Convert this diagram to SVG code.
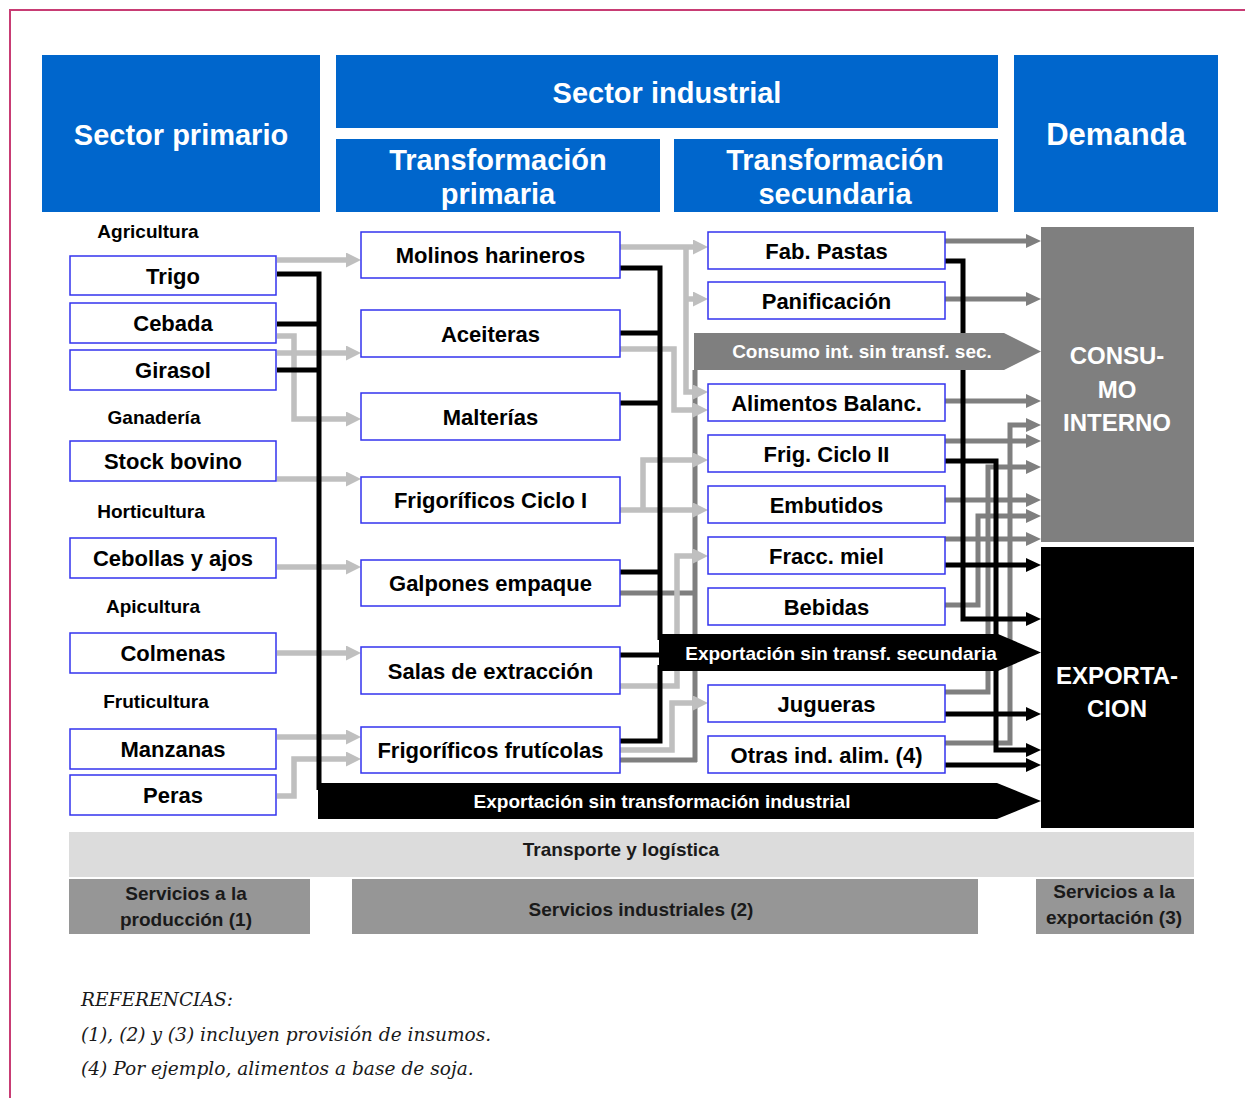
<svg xmlns="http://www.w3.org/2000/svg" width="1245" height="1098" viewBox="0 0 1245 1098">
<style>
.hdr{fill:#0066cc}
.ht{font-family:"Liberation Sans",Arial,sans-serif;font-weight:bold;font-size:29px;fill:#fff;text-anchor:middle}
.nb{fill:#fff;stroke:#3333ee;stroke-width:1.5}
.nt{font-family:"Liberation Sans",Arial,sans-serif;font-weight:bold;font-size:22px;fill:#000;text-anchor:middle}
.cat{font-family:"Liberation Sans",Arial,sans-serif;font-weight:bold;font-size:19px;fill:#000;text-anchor:middle}
.bt{font-family:"Liberation Sans",Arial,sans-serif;font-weight:bold;font-size:19px;fill:#fff;text-anchor:middle}
.dt{font-family:"Liberation Sans",Arial,sans-serif;font-weight:bold;font-size:24px;fill:#fff;text-anchor:middle}
.st{font-family:"Liberation Sans",Arial,sans-serif;font-weight:bold;font-size:19px;fill:#1a1a1a;text-anchor:middle}
.ref{font-family:"DejaVu Serif","Liberation Serif",serif;font-style:italic;font-size:18.6px;fill:#1a1a1a}
.lg{fill:none;stroke:#bfbfbf;stroke-width:5.5}
.g{fill:none;stroke:#7f7f7f;stroke-width:5}
.b{fill:none;stroke:#000;stroke-width:5}
.lga{marker-end:url(#ahL)}
.ga{marker-end:url(#ahG)}
.ba{marker-end:url(#ahB)}
</style>
<defs>
<marker id="ahL" markerUnits="userSpaceOnUse" markerWidth="16" markerHeight="16" refX="5" refY="7.5" orient="auto"><path d="M0,0 L15,7.5 L0,15 z" fill="#bfbfbf"/></marker>
<marker id="ahG" markerUnits="userSpaceOnUse" markerWidth="16" markerHeight="16" refX="5" refY="7" orient="auto"><path d="M0,0 L15,7 L0,14 z" fill="#7f7f7f"/></marker>
<marker id="ahB" markerUnits="userSpaceOnUse" markerWidth="16" markerHeight="16" refX="5" refY="7" orient="auto"><path d="M0,0 L15,7 L0,14 z" fill="#000"/></marker>
</defs>
<rect width="1245" height="1098" fill="#fff"/>
<path d="M10,1098 V10 H1245" fill="none" stroke="#c83c74" stroke-width="2"/>

<g id="hdr-primario"><rect class="hdr" x="42" y="55" width="278" height="157"/><text class="ht" x="181" y="145">Sector primario</text></g>
<g id="hdr-industrial"><rect class="hdr" x="336" y="55" width="662" height="73"/><text class="ht" x="667" y="103">Sector industrial</text></g>
<g id="hdr-tprimaria"><rect class="hdr" x="336" y="139" width="324" height="73"/><text class="ht" x="498" y="170">Transformación</text><text class="ht" x="498" y="204">primaria</text></g>
<g id="hdr-tsecundaria"><rect class="hdr" x="674" y="139" width="324" height="73"/><text class="ht" x="835" y="170">Transformación</text><text class="ht" x="835" y="204">secundaria</text></g>
<g id="hdr-demanda"><rect class="hdr" x="1014" y="55" width="204" height="157"/><text class="ht" x="1116" y="145" style="font-size:31px">Demanda</text></g>

<g id="labels">
<text class="cat" x="148" y="238">Agricultura</text>
<text class="cat" x="154" y="424">Ganadería</text>
<text class="cat" x="151" y="518">Horticultura</text>
<text class="cat" x="153" y="613">Apicultura</text>
<text class="cat" x="156" y="708">Fruticultura</text>
</g>

<g id="connectors">
<path class="g" d="M695,370 V762"/>
<path class="g" d="M620,593 H695"/>
<path class="g" d="M620,760 H697"/>
<path class="g ga" d="M945,241 H1031"/>
<path class="g ga" d="M945,299 H1031"/>
<path class="g ga" d="M945,401 H1031"/>
<path class="g ga" d="M945,441 H1031"/>
<path class="g ga" d="M945,500 H1031"/>
<path class="g ga" d="M945,539 H1031"/>
<path class="g ga" d="M945,605 H978 V516 H1031"/>
<path class="g ga" d="M945,692 H988 V467 H1031"/>
<path class="g ga" d="M945,743 H1010 V425 H1031"/>
<path class="lg lga" d="M277,260 H351"/>
<path class="lg lga" d="M277,353 H351"/>
<path class="lg lga" d="M277,336 H294 V419 H351"/>
<path class="lg lga" d="M277,479 H351"/>
<path class="lg lga" d="M277,567 H351"/>
<path class="lg lga" d="M277,653 H351"/>
<path class="lg lga" d="M277,737 H351"/>
<path class="lg lga" d="M277,796 H294 V759 H351"/>
<path class="lg lga" d="M620,247 H698"/>
<path class="lg lga" d="M686,247 V392 H698"/>
<path class="lg lga" d="M686,299 H698"/>
<path class="lg lga" d="M620,349 H674 V410 H698"/>
<path class="lg lga" d="M620,510 H698"/>
<path class="lg lga" d="M643,510 V460 H698"/>
<path class="lg lga" d="M620,686 H677 V556 H698"/>
<path class="lg lga" d="M620,750 H672 V703 H698"/>
<path class="b" d="M277,274 H319 V790"/>
<path class="b" d="M277,324 H319"/>
<path class="b" d="M277,370 H319"/>
<path class="b" d="M620,268 H660 V640"/>
<path class="b" d="M620,333 H660"/>
<path class="b" d="M620,403 H660"/>
<path class="b" d="M620,572 H660"/>
<path class="b" d="M620,655 H664"/>
<path class="b" d="M620,741 H660 V665"/>
<path class="b ba" d="M945,261 H963 V619 H1031"/>
<path class="b ba" d="M945,461 H996 V750 H1031"/>
<path class="b ba" d="M945,565 H1031"/>
<path class="b ba" d="M945,714 H1031"/>
<path class="b ba" d="M945,765 H1031"/>
</g>

<g id="banner-consumo"><polygon points="694,333 1004,333 1041,351.5 1004,370 694,370" fill="#7f7f7f"/><text class="bt" x="862" y="358">Consumo int. sin transf. sec.</text></g>
<g id="banner-export-sec"><polygon points="659,634 998,634 1041,652.5 998,671 659,671" fill="#000"/><text class="bt" x="841" y="659.5">Exportación sin transf. secundaria</text></g>
<g id="banner-export-ind"><polygon points="318,783 997,783 1041,801 997,819 318,819" fill="#000"/><text class="bt" x="662" y="808">Exportación sin transformación industrial</text></g>

<g id="consumo-interno"><rect x="1041" y="227" width="153" height="315" fill="#7f7f7f"/><text class="dt" x="1117" y="364">CONSU-</text><text class="dt" x="1117" y="398">MO</text><text class="dt" x="1117" y="431">INTERNO</text></g>
<g id="exportacion"><rect x="1041" y="547" width="153" height="281" fill="#000"/><text class="dt" x="1117" y="684">EXPORTA-</text><text class="dt" x="1117" y="717">CION</text></g>

<g id="trigo"><rect class="nb" x="70" y="256" width="206" height="39"/><text class="nt" x="173" y="283.5">Trigo</text></g>
<g id="cebada"><rect class="nb" x="70" y="303" width="206" height="40"/><text class="nt" x="173" y="331">Cebada</text></g>
<g id="girasol"><rect class="nb" x="70" y="350" width="206" height="40"/><text class="nt" x="173" y="378">Girasol</text></g>
<g id="stock-bovino"><rect class="nb" x="70" y="441" width="206" height="40"/><text class="nt" x="173" y="469">Stock bovino</text></g>
<g id="cebollas"><rect class="nb" x="70" y="538" width="206" height="40"/><text class="nt" x="173" y="566">Cebollas y ajos</text></g>
<g id="colmenas"><rect class="nb" x="70" y="633" width="206" height="40"/><text class="nt" x="173" y="661">Colmenas</text></g>
<g id="manzanas"><rect class="nb" x="70" y="729" width="206" height="40"/><text class="nt" x="173" y="757">Manzanas</text></g>
<g id="peras"><rect class="nb" x="70" y="775" width="206" height="40"/><text class="nt" x="173" y="803">Peras</text></g>

<g id="molinos"><rect class="nb" x="361" y="232" width="259" height="46"/><text class="nt" x="490.5" y="263">Molinos harineros</text></g>
<g id="aceiteras"><rect class="nb" x="361" y="310" width="259" height="47"/><text class="nt" x="490.5" y="341.5">Aceiteras</text></g>
<g id="malterias"><rect class="nb" x="361" y="393" width="259" height="47"/><text class="nt" x="490.5" y="424.5">Malterías</text></g>
<g id="frig-ciclo1"><rect class="nb" x="361" y="477" width="259" height="46"/><text class="nt" x="490.5" y="508">Frigoríficos Ciclo I</text></g>
<g id="galpones"><rect class="nb" x="361" y="560" width="259" height="46"/><text class="nt" x="490.5" y="591">Galpones empaque</text></g>
<g id="salas"><rect class="nb" x="361" y="647" width="259" height="47"/><text class="nt" x="490.5" y="678.5">Salas de extracción</text></g>
<g id="frig-fruticolas"><rect class="nb" x="361" y="727" width="259" height="46"/><text class="nt" x="490.5" y="758">Frigoríficos frutícolas</text></g>

<g id="fab-pastas"><rect class="nb" x="708" y="232" width="237" height="37"/><text class="nt" x="826.5" y="258.5">Fab. Pastas</text></g>
<g id="panificacion"><rect class="nb" x="708" y="282" width="237" height="37"/><text class="nt" x="826.5" y="308.5">Panificación</text></g>
<g id="alimentos"><rect class="nb" x="708" y="384" width="237" height="37"/><text class="nt" x="826.5" y="410.5">Alimentos Balanc.</text></g>
<g id="frig-ciclo2"><rect class="nb" x="708" y="435" width="237" height="37"/><text class="nt" x="826.5" y="461.5">Frig. Ciclo II</text></g>
<g id="embutidos"><rect class="nb" x="708" y="486" width="237" height="37"/><text class="nt" x="826.5" y="512.5">Embutidos</text></g>
<g id="fracc-miel"><rect class="nb" x="708" y="537" width="237" height="37"/><text class="nt" x="826.5" y="563.5">Fracc. miel</text></g>
<g id="bebidas"><rect class="nb" x="708" y="588" width="237" height="37"/><text class="nt" x="826.5" y="614.5">Bebidas</text></g>
<g id="jugueras"><rect class="nb" x="708" y="685" width="237" height="37"/><text class="nt" x="826.5" y="711.5">Jugueras</text></g>
<g id="otras"><rect class="nb" x="708" y="736" width="237" height="37"/><text class="nt" x="826.5" y="762.5">Otras ind. alim. (4)</text></g>

<g id="transporte"><rect x="69" y="832" width="1125" height="45" fill="#dcdcdc"/><text class="st" x="621" y="856">Transporte y logística</text></g>
<g id="serv-produccion"><rect x="69" y="879" width="241" height="55" fill="#969696"/><text class="st" x="186" y="900">Servicios a la</text><text class="st" x="186" y="926">producción (1)</text></g>
<g id="serv-industriales"><rect x="352" y="879" width="626" height="55" fill="#969696"/><text class="st" x="641" y="916">Servicios industriales (2)</text></g>
<g id="serv-exportacion"><rect x="1036" y="879" width="158" height="55" fill="#969696"/><text class="st" x="1114" y="898">Servicios a la</text><text class="st" x="1114" y="924">exportación (3)</text></g>

<g id="referencias">
<text class="ref" x="81" y="1006">REFERENCIAS:</text>
<text class="ref" x="81" y="1041">(1), (2) y (3) incluyen provisión de insumos.</text>
<text class="ref" x="81" y="1075">(4) Por ejemplo, alimentos a base de soja.</text>
</g>
</svg>
